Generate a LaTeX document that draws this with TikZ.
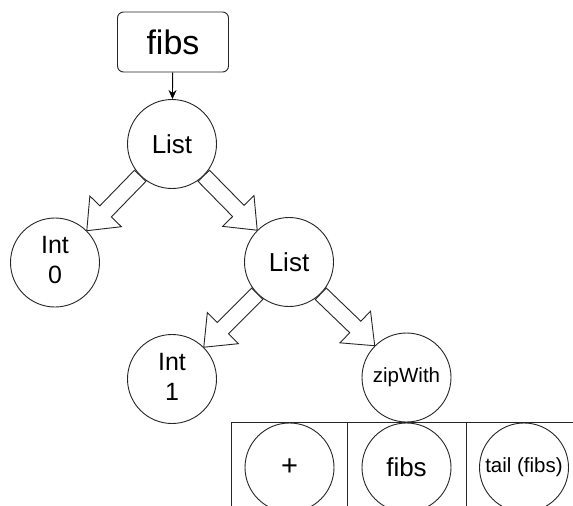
\documentclass[tikz,border=0pt]{standalone}
\usepackage{fontspec}
\setmainfont{Liberation Sans}
\usetikzlibrary{calc,arrows.meta}
\tikzset{
  circ/.style={draw=black!85, line width=0.9pt, circle, minimum size=89pt, inner sep=0pt, align=center},
  titlebox/.style={draw=black!85, line width=0.9pt, rounded corners=6pt, minimum width=111pt, minimum height=60pt, inner sep=0pt},
  cell/.style={draw=black!85, line width=0.9pt, minimum height=100pt, inner sep=0pt},
  barrow/.style={draw=black!85, line width=0.9pt, fill=white, line join=miter},
  thinarrow/.style={draw=black, line width=0.9pt, -{Stealth[length=9pt,width=8pt]}}
}
\newcommand\blockarrow[2]{%
  \coordinate (ba-s) at (#1);
  \coordinate (ba-t) at (#2);
  \coordinate (ba-h) at ($(ba-t)!27pt!(ba-s)$);
  \draw[barrow] ($(ba-s)!8pt!90:(ba-t)$) -- ($(ba-h)!8pt!90:(ba-t)$) -- ($(ba-h)!22pt!90:(ba-t)$)
     -- (ba-t) -- ($(ba-h)!22pt!-90:(ba-t)$) -- ($(ba-h)!8pt!-90:(ba-t)$) -- ($(ba-s)!8pt!-90:(ba-t)$) -- cycle;
}
\begin{document}
\begin{tikzpicture}[x=1pt,y=-1pt]
\useasboundingbox (0,0) rectangle (573,506);
\clip (0,0) rectangle (573,506);
\fill[white] (0,0) rectangle (573,506);
% table cells
\node[cell, minimum width=116pt] (c1) at (289,472) {};
\node[cell, minimum width=119pt] (c2) at (406.5,472) {};
\node[cell, minimum width=117pt] (c3) at (524.5,472) {};
% nodes
\node[titlebox, font=\fontsize{34}{38}\selectfont] (top) at (173,42) {fibs};
\node[circ, font=\fontsize{26}{30}\selectfont] (list1) at (172,144) {List};
\node[circ, font=\fontsize{25}{31}\selectfont] (int0) at (55,262.5) {\raisebox{3pt}{\begin{tabular}{@{}c@{}}Int\\[-1pt]0\end{tabular}}};
\node[circ, font=\fontsize{26}{30}\selectfont] (list2) at (289,262) {List};
\node[circ, font=\fontsize{25}{31}\selectfont] (int1) at (172,379) {\raisebox{3pt}{\begin{tabular}{@{}c@{}}Int\\[-1pt]1\end{tabular}}};
\node[circ, font=\fontsize{20.5}{24}\selectfont] (zip) at (406.5,377.5) {zipWith};
\node[circ, font=\fontsize{29}{32}\selectfont] (plus) at (289.5,467.5) {+};
\node[circ, font=\fontsize{26}{30}\selectfont] (fibs2) at (406.5,467.5) {fibs};
\node[circ, font=\fontsize{20.5}{24}\selectfont] (tail) at (524,467.5) {tail (fibs)};
% connectors
\draw[thinarrow] (top) -- (list1);
\blockarrow{list1.225}{int0.45}
\blockarrow{list1.-45}{list2.135}
\blockarrow{list2.225}{int1.45}
\blockarrow{list2.-45}{zip.135}
\end{tikzpicture}
\end{document}
